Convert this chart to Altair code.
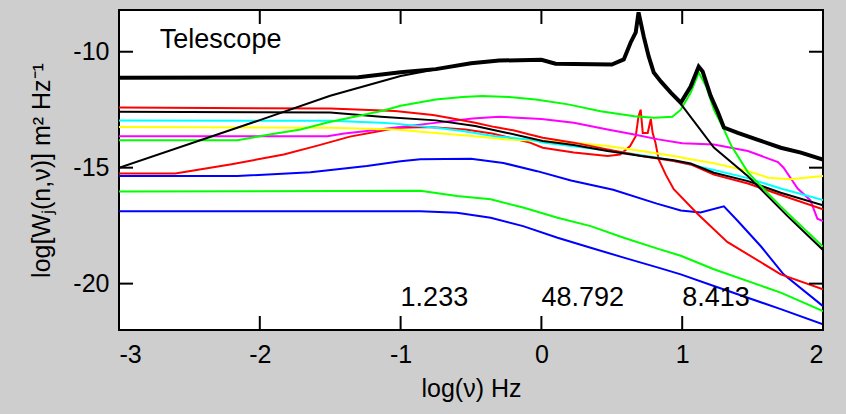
import altair as alt
import pandas as pd

# ---------------- data ----------------
TOTAL_X = [-3.0, -1.3, -1.0, -0.75, -0.5, -0.3, 0.0, 0.1, 0.5, 0.585, 0.634, 0.67, 0.69, 0.727, 0.762, 0.798, 0.848, 0.919, 0.99, 1.06, 1.117, 1.145, 1.202, 1.253, 1.296, 1.395, 1.538, 1.70, 1.843, 2.0]
TOTAL_Y = [-11.12, -11.1, -10.88, -10.75, -10.5, -10.38, -10.35, -10.52, -10.55, -10.33, -9.6, -9.17, -8.3, -9.35, -10.2, -10.9, -11.28, -11.76, -12.2, -11.5, -10.64, -10.85, -11.9, -12.6, -13.27, -13.5, -13.8, -14.14, -14.35, -14.65]

DIAG_X = [-3.0, -2.0, -1.5, -1.0, -0.7, -0.5, -0.3, 0.0, 0.1, 0.5, 0.585, 0.634, 0.67, 0.69, 0.727, 0.762, 0.798, 0.848, 0.919, 0.99, 1.225, 1.467, 1.75, 2.0]
DIAG_Y = [-15.0, -12.95, -11.9, -11.05, -10.7, -10.5, -10.38, -10.35, -10.52, -10.55, -10.33, -9.6, -9.17, -8.3, -9.35, -10.2, -10.9, -11.28, -11.76, -12.25, -14.13, -15.37, -17.1, -18.55]

GREEN1_X = [-3.0, -2.16, -1.93, -1.71, -1.52, -1.31, -1.12, -1.0, -0.75, -0.56, -0.42, -0.23, -0.04, 0.19, 0.42, 0.66, 0.80, 0.93, 0.99, 1.06, 1.118, 1.17, 1.225, 1.296, 1.35, 1.467, 1.58, 1.70, 1.79, 2.0]
GREEN1_Y = [-13.82, -13.82, -13.57, -13.35, -13.05, -12.78, -12.53, -12.33, -12.06, -11.95, -11.91, -11.95, -12.06, -12.27, -12.57, -12.78, -12.85, -12.8, -12.5, -11.77, -10.9, -11.5, -12.5, -13.35, -14.07, -15.2, -15.93, -16.67, -17.2, -18.4]

RED1_X = [-3.0, -1.5, -1.04, -0.77, -0.63, -0.47, -0.33, -0.2, -0.09, 0.01, 0.23, 0.47, 0.71, 0.94, 1.06, 1.225, 1.467, 1.70, 2.0]
RED1_Y = [-12.41, -12.45, -12.56, -12.73, -12.88, -13.06, -13.25, -13.39, -13.56, -13.71, -13.92, -14.21, -14.5, -14.71, -14.86, -15.3, -15.68, -16.18, -16.8]

BLACK2_X = [-3.0, -1.5, -1.14, -0.75, -0.47, -0.25, 0.01, 0.23, 0.47, 0.71, 0.94, 1.06, 1.225, 1.467, 1.70, 2.0]
BLACK2_Y = [-12.59, -12.62, -12.8, -12.96, -13.2, -13.49, -13.85, -14.02, -14.28, -14.5, -14.68, -14.82, -15.22, -15.58, -16.08, -16.62]

CYAN_X = [-3.0, -1.5, -1.14, -1.04, -0.75, -0.56, -0.33, -0.09, 0.01, 0.585, 0.83, 0.99, 1.225, 1.467, 1.70, 2.0]
CYAN_Y = [-12.96, -12.98, -13.06, -13.1, -13.28, -13.42, -13.64, -13.78, -13.92, -14.35, -14.57, -14.78, -15.1, -15.45, -15.9, -16.4]

YELLOW_X = [-3.0, -1.5, -1.04, -0.77, -0.47, -0.25, 0.01, 0.23, 0.47, 0.71, 0.94, 1.06, 1.225, 1.467, 1.61, 1.77, 2.0]
YELLOW_Y = [-13.25, -13.28, -13.35, -13.49, -13.64, -13.78, -13.85, -13.92, -14.07, -14.28, -14.5, -14.64, -14.81, -15.14, -15.43, -15.5, -15.36]

MAGENTA_X = [-3.0, -1.52, -1.4, -1.24, -1.05, -0.8, -0.49, -0.3, 0.0, 0.23, 0.47, 0.66, 0.83, 1.0, 1.225, 1.467, 1.68, 1.72, 1.82, 1.91, 1.96, 2.0]
MAGENTA_Y = [-13.64, -13.64, -13.53, -13.42, -13.28, -13.1, -12.88, -12.8, -12.9, -13.06, -13.35, -13.57, -13.78, -13.95, -14.0, -14.28, -14.76, -15.0, -15.9, -16.4, -17.2, -17.3]

RED2_X = [-3.0, -2.6, -2.2, -1.83, -1.59, -1.36, -1.02, -0.8, -0.54, -0.35, -0.09, 0.01, 0.23, 0.47, 0.56, 0.63, 0.67, 0.69, 0.705, 0.72, 0.755, 0.777, 0.79, 0.81, 0.833, 0.883, 0.94, 1.11, 1.32, 1.70, 2.0]
RED2_Y = [-15.25, -15.25, -14.85, -14.43, -14.05, -13.66, -13.28, -13.25, -13.35, -13.53, -13.9, -14.14, -14.35, -14.5, -14.43, -14.07, -13.64, -12.78, -12.5, -13.5, -13.5, -12.9, -13.5, -13.92, -14.64, -15.3, -15.93, -17.0, -18.2, -19.6, -20.24]

BLUE1_X = [-3.0, -2.16, -1.64, -1.24, -1.0, -0.86, -0.5, -0.27, -0.03, 0.21, 0.51, 0.82, 0.99, 1.13, 1.296, 1.395, 1.56, 1.72, 2.0]
BLUE1_Y = [-15.36, -15.36, -15.2, -14.93, -14.72, -14.64, -14.62, -14.8, -15.15, -15.55, -15.95, -16.55, -16.85, -16.93, -16.67, -17.3, -18.4, -19.6, -20.97]

GREEN2_X = [-3.0, -0.86, -0.6, -0.36, -0.13, 0.115, 0.35, 0.585, 0.83, 0.99, 1.225, 1.70, 2.0]
GREEN2_Y = [-16.03, -16.0, -16.22, -16.36, -16.72, -17.16, -17.52, -18.02, -18.5, -18.8, -19.38, -20.39, -21.18]

BLUE2_X = [-3.0, -0.86, -0.6, -0.36, -0.13, 0.115, 0.35, 0.585, 0.83, 0.99, 1.225, 1.70, 2.0]
BLUE2_Y = [-16.88, -16.88, -16.94, -17.16, -17.52, -18.02, -18.45, -18.88, -19.31, -19.6, -20.1, -21.1, -21.75]

SERIES = [
    ("blue2", "#0000ff", 2, BLUE2_X, BLUE2_Y),
    ("green2", "#00ff00", 2, GREEN2_X, GREEN2_Y),
    ("blue1", "#0000ff", 2, BLUE1_X, BLUE1_Y),
    ("red2", "#ff0000", 1.6, RED2_X, RED2_Y),
    ("magenta", "#ff00ff", 2, MAGENTA_X, MAGENTA_Y),
    ("yellow", "#ffff00", 2, YELLOW_X, YELLOW_Y),
    ("cyan", "#00ffff", 2, CYAN_X, CYAN_Y),
    ("red1", "#ff0000", 2.2, RED1_X, RED1_Y),
    ("black2", "#000000", 1.6, BLACK2_X, BLACK2_Y),
    ("green1", "#00ff00", 2, GREEN1_X, GREEN1_Y),
    ("diag", "#000000", 1.2, DIAG_X, DIAG_Y),
]

X_TICKS = [-3, -2, -1, 0, 1, 2]
Y_TICKS = [-20, -15, -10]

ANNOT_TEXT = ["1.233", "48.792", "8.413"]
ANNOT_X = [-1.0, 0.0, 1.0]
ANNOT_Y = [-20.63, -20.63, -20.63]

TITLE_TEXT = ["Telescope"]
TITLE_X = [-2.71]
TITLE_Y = [-9.5]

# ---------------- build ----------------
rows = []
for name, col, w, xs_, ys_ in SERIES:
    for i, (xv, yv) in enumerate(zip(xs_, ys_)):
        rows.append({"name": name, "i": i, "x": xv, "y": yv})
df = pd.DataFrame(rows)
tot = pd.DataFrame({"x": TOTAL_X, "y": TOTAL_Y, "i": range(len(TOTAL_X))})

W, H = 704, 320
FONT = "Liberation Sans"

xs = alt.Scale(domain=[-3, 2], nice=False, zero=False)
ys = alt.Scale(domain=[-22, -8.2], nice=False, zero=False)

xaxis = alt.Axis(values=X_TICKS, labelExpr="'' + datum.value", ticks=False, tickSize=0,
                 domain=False, grid=False, labelFontSize=25, labelFont=FONT,
                 labelColor="black", labelPadding=12, title="log(ν) Hz",
                 titleFont=FONT, titleFontSize=25, titleFontWeight="normal",
                 titleColor="black", titleY=58, titleBaseline="middle")
yaxis = alt.Axis(values=Y_TICKS, labelExpr="'' + datum.value", ticks=False, tickSize=0,
                 domain=False, grid=False, labelFontSize=25, labelFont=FONT,
                 labelColor="black", labelPadding=10,
                 title="log[Wⱼ(n,ν)] m² Hz⁻¹",
                 titleFont=FONT, titleFontSize=25, titleFontWeight="normal",
                 titleColor="black", titleX=-78, titleY=160, titleBaseline="middle",
                 titleAlign="center", titleAngle=270)

names = [s[0] for s in SERIES]
colors = [s[1] for s in SERIES]
widths = [s[2] for s in SERIES]

lines = alt.Chart(df).mark_line(interpolate="linear", clip=True).encode(
    x=alt.X("x:Q", scale=xs, axis=xaxis),
    y=alt.Y("y:Q", scale=ys, axis=yaxis),
    color=alt.Color("name:N", scale=alt.Scale(domain=names, range=colors), legend=None),
    strokeWidth=alt.StrokeWidth("name:N", scale=alt.Scale(domain=names, range=widths), legend=None),
    order="i:Q",
)

total = alt.Chart(tot).mark_line(color="black", strokeWidth=4, clip=True).encode(
    x=alt.X("x:Q", scale=xs), y=alt.Y("y:Q", scale=ys), order="i:Q"
)

xt = pd.DataFrame({"x": X_TICKS})
yt = pd.DataFrame({"y": Y_TICKS})
TL = 14
tick_b = alt.Chart(xt).mark_rule(color="black", strokeWidth=2).encode(
    x=alt.X("x:Q", scale=xs), y=alt.value(H), y2=alt.value(H - TL))
tick_t = alt.Chart(xt).mark_rule(color="black", strokeWidth=2).encode(
    x=alt.X("x:Q", scale=xs), y=alt.value(0), y2=alt.value(TL))
tick_l = alt.Chart(yt).mark_rule(color="black", strokeWidth=2).encode(
    y=alt.Y("y:Q", scale=ys), x=alt.value(0), x2=alt.value(TL))
tick_r = alt.Chart(yt).mark_rule(color="black", strokeWidth=2).encode(
    y=alt.Y("y:Q", scale=ys), x=alt.value(W), x2=alt.value(W - TL))

ann = pd.DataFrame({"x": ANNOT_X, "y": ANNOT_Y, "t": ANNOT_TEXT})
ann_t = alt.Chart(ann).mark_text(align="left", baseline="middle", font=FONT,
                                 fontSize=27, color="black").encode(
    x=alt.X("x:Q", scale=xs), y=alt.Y("y:Q", scale=ys), text="t:N")

tt = pd.DataFrame({"x": TITLE_X, "y": TITLE_Y, "t": TITLE_TEXT})
tt_t = alt.Chart(tt).mark_text(align="left", baseline="middle", font=FONT,
                               fontSize=27, color="black").encode(
    x=alt.X("x:Q", scale=xs), y=alt.Y("y:Q", scale=ys), text="t:N")

chart = alt.layer(lines, total, tick_b, tick_t, tick_l, tick_r, ann_t, tt_t).properties(
    width=W, height=H,
    autosize=alt.AutoSizeParams(type="none"),
    padding={"left": 119, "top": 10, "right": 23, "bottom": 84},
    background="#cecece",
).configure_view(fill="white", stroke="black", strokeWidth=2)

chart.save("out.html", embed_options={"renderer": "svg", "actions": False})
